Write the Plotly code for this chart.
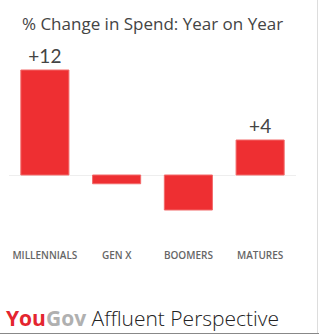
import plotly.graph_objects as go

categories = ["MILLENNIALS", "GEN X", "BOOMERS", "MATURES"]
values = [12, -1, -4, 4]
labels = ["+12", "", "", "+4"]

W, H = 319, 334
L, R, T, B = 9, 23, 40, 90
pw = W - L - R
ph = H - T - B

fig = go.Figure()
fig.add_trace(go.Bar(
    x=categories, y=values, text=labels, textposition="outside",
    textfont=dict(family="Lato, Open Sans, sans-serif", size=19, color="#444"),
    marker=dict(color="#EE2F32", line=dict(color="#F26a6a", width=1)),
    cliponaxis=False, hoverinfo="skip",
))

fig.update_layout(
    width=W, height=H,
    margin=dict(l=L, r=R, t=T, b=B),
    paper_bgcolor="white", plot_bgcolor="white",
    showlegend=False, bargap=0.33,
    title=dict(text="% Change in Spend: Year on Year", x=0.5, xref="paper", y=1 - 24 / H, yanchor="middle",
               font=dict(family="Open Sans, Lato, sans-serif", size=17, color="#444")),
    xaxis=dict(showgrid=False, showline=False, ticks="", ticklabelstandoff=4,
               tickfont=dict(family="Open Sans, Lato, sans-serif", size=10, color="#666", weight=600)),
    yaxis=dict(range=[-(T + ph - 175) / 8.75, (175 - T) / 8.75], showgrid=False, showticklabels=False,
               zeroline=True, zerolinecolor="#eeeeee", zerolinewidth=1),
    annotations=[dict(
        text="<b><span style='color:#E4252F'>You</span><span style='color:#B0B0B0'>Gov</span></b><span style='font-weight:300'> Affluent Perspective</span>",
        xref="paper", yref="paper", x=(4 - L) / pw, y=(H - 318 - B) / ph, xanchor="left", yanchor="middle",
        showarrow=False, font=dict(family="Open Sans, Lato, sans-serif", size=21, color="#222"))],
    shapes=[
        dict(type="line", xref="paper", yref="paper", x0=(317.5 - L) / pw, x1=(317.5 - L) / pw,
             y0=(0.5 - B) / ph, y1=(H - B) / ph, line=dict(color="#dddddd", width=1)),
        dict(type="line", xref="paper", yref="paper", x0=-L / pw, x1=(W - L) / pw,
             y0=(0.5 - B) / ph, y1=(0.5 - B) / ph, line=dict(color="#888888", width=1)),
    ],
)

fig.write_html("out.html")
